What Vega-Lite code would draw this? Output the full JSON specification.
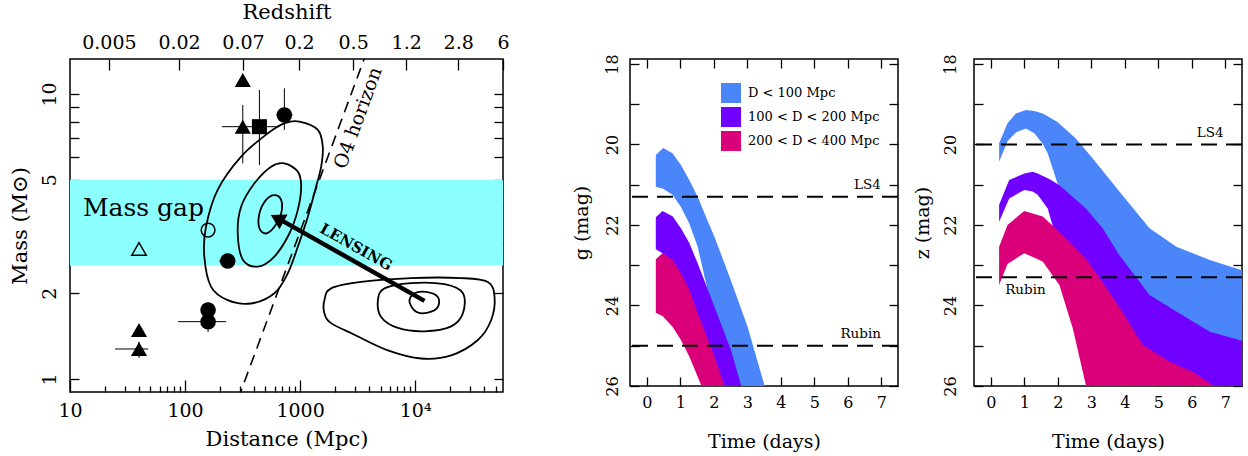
{
  "$schema": "https://vega.github.io/schema/vega-lite/v6.json",
  "background": "white",
  "padding": {"left": 8, "right": 5, "top": 0, "bottom": 2},
  "config": {
    "font": "DejaVu Serif",
    "view": {"stroke": "black", "strokeWidth": 1.5},
    "axis": {"grid": false, "domain": false, "labelColor": "black", "titleColor": "black", "tickColor": "black", "tickWidth": 1.3, "titleFontWeight": "normal", "labelOverlap": false, "labelFlush": false, "labelFont": "DejaVu Serif", "titleFont": "DejaVu Serif"},
    "legend": {"labelFont": "DejaVu Serif"}
  },
  "datasets": {
    "band": [{"d1": 10, "d2": 58000, "m1": 2.5, "m2": 5}],
    "contours": [
      {"c": "A", "i": 1, "d": 986, "m": 8.0}, {"c": "A", "i": 2, "d": 1426, "m": 7.48}, {"c": "A", "i": 3, "d": 1574, "m": 6.53}, {"c": "A", "i": 4, "d": 1524, "m": 5.56}, {"c": "A", "i": 5, "d": 1377, "m": 4.73}, {"c": "A", "i": 6, "d": 1167, "m": 3.71}, {"c": "A", "i": 7, "d": 955, "m": 2.91}, {"c": "A", "i": 8, "d": 782, "m": 2.35}, {"c": "A", "i": 9, "d": 598, "m": 2.0}, {"c": "A", "i": 10, "d": 375, "m": 1.84}, {"c": "A", "i": 11, "d": 235, "m": 1.89}, {"c": "A", "i": 12, "d": 168, "m": 2.11}, {"c": "A", "i": 13, "d": 147, "m": 2.69}, {"c": "A", "i": 14, "d": 152, "m": 3.42}, {"c": "A", "i": 15, "d": 192, "m": 4.61}, {"c": "A", "i": 16, "d": 307, "m": 6.03}, {"c": "A", "i": 17, "d": 524, "m": 7.28}, {"c": "A", "i": 18, "d": 730, "m": 7.89},
      {"c": "B", "i": 1, "d": 730, "m": 5.71}, {"c": "B", "i": 2, "d": 955, "m": 5.34}, {"c": "B", "i": 3, "d": 1021, "m": 4.73}, {"c": "B", "i": 4, "d": 955, "m": 3.92}, {"c": "B", "i": 5, "d": 807, "m": 3.24}, {"c": "B", "i": 6, "d": 598, "m": 2.69}, {"c": "B", "i": 7, "d": 429, "m": 2.48}, {"c": "B", "i": 8, "d": 318, "m": 2.62}, {"c": "B", "i": 9, "d": 287, "m": 3.24}, {"c": "B", "i": 10, "d": 307, "m": 4.02}, {"c": "B", "i": 11, "d": 401, "m": 4.86}, {"c": "B", "i": 12, "d": 560, "m": 5.56},
      {"c": "C", "i": 1, "d": 598, "m": 4.42}, {"c": "C", "i": 2, "d": 684, "m": 4.25}, {"c": "C", "i": 3, "d": 684, "m": 3.81}, {"c": "C", "i": 4, "d": 598, "m": 3.42}, {"c": "C", "i": 5, "d": 506, "m": 3.24}, {"c": "C", "i": 6, "d": 443, "m": 3.38}, {"c": "C", "i": 7, "d": 443, "m": 3.81}, {"c": "C", "i": 8, "d": 506, "m": 4.25},
      {"c": "D", "i": 1, "d": 1626, "m": 1.89}, {"c": "D", "i": 2, "d": 1862, "m": 2.08}, {"c": "D", "i": 3, "d": 3388, "m": 2.19}, {"c": "D", "i": 4, "d": 9226, "m": 2.26}, {"c": "D", "i": 5, "d": 25120, "m": 2.26}, {"c": "D", "i": 6, "d": 42850, "m": 2.19}, {"c": "D", "i": 7, "d": 48980, "m": 1.94}, {"c": "D", "i": 8, "d": 45800, "m": 1.61}, {"c": "D", "i": 9, "d": 35080, "m": 1.37}, {"c": "D", "i": 10, "d": 20560, "m": 1.21}, {"c": "D", "i": 11, "d": 11270, "m": 1.18}, {"c": "D", "i": 12, "d": 5794, "m": 1.26}, {"c": "D", "i": 13, "d": 2965, "m": 1.43}, {"c": "D", "i": 14, "d": 1862, "m": 1.57}, {"c": "D", "i": 15, "d": 1626, "m": 1.7},
      {"c": "E", "i": 1, "d": 4742, "m": 1.89}, {"c": "E", "i": 2, "d": 5408, "m": 2.08}, {"c": "E", "i": 3, "d": 9226, "m": 2.17}, {"c": "E", "i": 4, "d": 17990, "m": 2.15}, {"c": "E", "i": 5, "d": 26000, "m": 2.0}, {"c": "E", "i": 6, "d": 26000, "m": 1.7}, {"c": "E", "i": 7, "d": 20560, "m": 1.53}, {"c": "E", "i": 8, "d": 12050, "m": 1.47}, {"c": "E", "i": 9, "d": 7079, "m": 1.51}, {"c": "E", "i": 10, "d": 5058, "m": 1.65},
      {"c": "F", "i": 1, "d": 8913, "m": 1.87}, {"c": "F", "i": 2, "d": 9863, "m": 2.0}, {"c": "F", "i": 3, "d": 12470, "m": 2.02}, {"c": "F", "i": 4, "d": 15740, "m": 1.94}, {"c": "F", "i": 5, "d": 15740, "m": 1.79}, {"c": "F", "i": 6, "d": 12880, "m": 1.71}, {"c": "F", "i": 7, "d": 10210, "m": 1.72}
    ],
    "o4": [{"d1": 288.5, "m1": 0.85, "d2": 3785, "m2": 14}],
    "arrow": [{"d1": 12050, "m1": 1.88, "d2": 684, "m2": 3.61}],
    "head": [{"d": 632, "m": 3.66}],
    "errs": [
      {"x1": 24.6, "x2": 47.7, "y1": 1.274, "y2": 1.274},
      {"x1": 39.8, "x2": 39.8, "y1": 1.185, "y2": 1.35},
      {"x1": 86.9, "x2": 227.5, "y1": 1.589, "y2": 1.589},
      {"x1": 158.5, "x2": 158.5, "y1": 1.46, "y2": 1.85},
      {"x1": 198, "x2": 270, "y1": 2.594, "y2": 2.594},
      {"x1": 208.5, "x2": 660, "y1": 7.68, "y2": 7.68},
      {"x1": 317.5, "x2": 317.5, "y1": 5.71, "y2": 9.15},
      {"x1": 443, "x2": 443, "y1": 5.63, "y2": 10.33},
      {"x1": 730, "x2": 730, "y1": 7.48, "y2": 10.47},
      {"x1": 618, "x2": 862, "y1": 8.44, "y2": 8.44}
    ],
    "pts": [
      {"d": 39.8, "m": 1.486, "k": "tri"}, {"d": 39.8, "m": 1.274, "k": "tri"}, {"d": 317.5, "m": 11.2, "k": "tri"}, {"d": 317.5, "m": 7.68, "k": "tri"},
      {"d": 158.5, "m": 1.746, "k": "circ"}, {"d": 158.5, "m": 1.589, "k": "circ"}, {"d": 235, "m": 2.594, "k": "circ"}, {"d": 730, "m": 8.44, "k": "circ"},
      {"d": 443, "m": 7.68, "k": "sq"}
    ],
    "opts": [{"d": 39.8, "m": 2.86, "k": "otri"}, {"d": 158.5, "m": 3.33, "k": "ocirc"}],
    "massgap": [{"d": 12.97, "m": 3.98, "label": "Mass gap"}],
    "lensing": [{"d": 3069, "m": 2.905, "label": "LENSING"}],
    "o4label": [{"d": 3192, "m": 8.24, "label": "O4 horizon"}],
    "gbands": [
      {"s": "D < 100 Mpc", "t": 0.27, "hi": 20.26, "lo": 21.05}, {"s": "D < 100 Mpc", "t": 0.49, "hi": 20.09, "lo": 21.1}, {"s": "D < 100 Mpc", "t": 0.77, "hi": 20.22, "lo": 21.25}, {"s": "D < 100 Mpc", "t": 1.02, "hi": 20.51, "lo": 21.55}, {"s": "D < 100 Mpc", "t": 1.27, "hi": 20.88, "lo": 21.96}, {"s": "D < 100 Mpc", "t": 1.52, "hi": 21.3, "lo": 22.54}, {"s": "D < 100 Mpc", "t": 1.77, "hi": 21.8, "lo": 23.45}, {"s": "D < 100 Mpc", "t": 2.02, "hi": 22.29, "lo": 24.4}, {"s": "D < 100 Mpc", "t": 2.51, "hi": 23.37, "lo": 25.5}, {"s": "D < 100 Mpc", "t": 3.01, "hi": 24.53, "lo": 26.5}, {"s": "D < 100 Mpc", "t": 3.51, "hi": 25.97, "lo": 27.0}, {"s": "D < 100 Mpc", "t": 3.7, "hi": 26.4, "lo": 27.2},
      {"s": "100 < D < 200 Mpc", "t": 0.27, "hi": 21.81, "lo": 22.6}, {"s": "100 < D < 200 Mpc", "t": 0.47, "hi": 21.65, "lo": 22.7}, {"s": "100 < D < 200 Mpc", "t": 0.77, "hi": 21.78, "lo": 23.1}, {"s": "100 < D < 200 Mpc", "t": 1.02, "hi": 22.08, "lo": 23.45}, {"s": "100 < D < 200 Mpc", "t": 1.27, "hi": 22.45, "lo": 23.9}, {"s": "100 < D < 200 Mpc", "t": 1.52, "hi": 22.95, "lo": 24.5}, {"s": "100 < D < 200 Mpc", "t": 2.02, "hi": 24.03, "lo": 25.6}, {"s": "100 < D < 200 Mpc", "t": 2.51, "hi": 25.1, "lo": 26.6}, {"s": "100 < D < 200 Mpc", "t": 2.81, "hi": 25.97, "lo": 27.0}, {"s": "100 < D < 200 Mpc", "t": 3.0, "hi": 26.6, "lo": 27.3},
      {"s": "200 < D < 400 Mpc", "t": 0.27, "hi": 22.85, "lo": 24.18}, {"s": "200 < D < 400 Mpc", "t": 0.47, "hi": 22.7, "lo": 24.26}, {"s": "200 < D < 400 Mpc", "t": 0.77, "hi": 22.87, "lo": 24.53}, {"s": "200 < D < 400 Mpc", "t": 1.02, "hi": 23.2, "lo": 24.86}, {"s": "200 < D < 400 Mpc", "t": 1.27, "hi": 23.61, "lo": 25.27}, {"s": "200 < D < 400 Mpc", "t": 1.52, "hi": 24.19, "lo": 25.77}, {"s": "200 < D < 400 Mpc", "t": 1.62, "hi": 24.4, "lo": 25.97}, {"s": "200 < D < 400 Mpc", "t": 2.02, "hi": 25.27, "lo": 26.8}, {"s": "200 < D < 400 Mpc", "t": 2.31, "hi": 25.97, "lo": 27.3}, {"s": "200 < D < 400 Mpc", "t": 2.5, "hi": 26.5, "lo": 27.6}
    ],
    "zbands": [
      {"s": "D < 100 Mpc", "t": 0.25, "hi": 19.97, "lo": 20.43}, {"s": "D < 100 Mpc", "t": 0.5, "hi": 19.47, "lo": 19.92}, {"s": "D < 100 Mpc", "t": 0.75, "hi": 19.23, "lo": 19.7}, {"s": "D < 100 Mpc", "t": 1.05, "hi": 19.14, "lo": 19.6}, {"s": "D < 100 Mpc", "t": 1.3, "hi": 19.17, "lo": 19.72}, {"s": "D < 100 Mpc", "t": 1.55, "hi": 19.23, "lo": 19.98}, {"s": "D < 100 Mpc", "t": 1.7, "hi": 19.3, "lo": 20.22}, {"s": "D < 100 Mpc", "t": 1.99, "hi": 19.44, "lo": 20.96}, {"s": "D < 100 Mpc", "t": 2.54, "hi": 19.85, "lo": 21.7}, {"s": "D < 100 Mpc", "t": 3.04, "hi": 20.34, "lo": 22.1}, {"s": "D < 100 Mpc", "t": 3.84, "hi": 21.17, "lo": 23.15}, {"s": "D < 100 Mpc", "t": 4.74, "hi": 22.08, "lo": 24.14}, {"s": "D < 100 Mpc", "t": 5.54, "hi": 22.54, "lo": 24.55}, {"s": "D < 100 Mpc", "t": 6.54, "hi": 22.87, "lo": 25.05}, {"s": "D < 100 Mpc", "t": 7.6, "hi": 23.15, "lo": 25.3},
      {"s": "100 < D < 200 Mpc", "t": 0.25, "hi": 21.5, "lo": 21.92}, {"s": "100 < D < 200 Mpc", "t": 0.55, "hi": 20.88, "lo": 21.34}, {"s": "100 < D < 200 Mpc", "t": 1.0, "hi": 20.72, "lo": 21.13}, {"s": "100 < D < 200 Mpc", "t": 1.25, "hi": 20.68, "lo": 21.17}, {"s": "100 < D < 200 Mpc", "t": 1.4, "hi": 20.72, "lo": 21.25}, {"s": "100 < D < 200 Mpc", "t": 1.7, "hi": 20.84, "lo": 21.59}, {"s": "100 < D < 200 Mpc", "t": 1.8, "hi": 20.88, "lo": 21.88}, {"s": "100 < D < 200 Mpc", "t": 2.05, "hi": 21.01, "lo": 22.55}, {"s": "100 < D < 200 Mpc", "t": 2.84, "hi": 21.59, "lo": 23.2}, {"s": "100 < D < 200 Mpc", "t": 3.34, "hi": 22.08, "lo": 23.8}, {"s": "100 < D < 200 Mpc", "t": 3.84, "hi": 22.75, "lo": 24.45}, {"s": "100 < D < 200 Mpc", "t": 4.74, "hi": 23.74, "lo": 25.5}, {"s": "100 < D < 200 Mpc", "t": 5.54, "hi": 24.15, "lo": 25.85}, {"s": "100 < D < 200 Mpc", "t": 6.54, "hi": 24.65, "lo": 26.3}, {"s": "100 < D < 200 Mpc", "t": 7.6, "hi": 24.9, "lo": 26.6},
      {"s": "200 < D < 400 Mpc", "t": 0.25, "hi": 22.54, "lo": 23.49}, {"s": "200 < D < 400 Mpc", "t": 0.5, "hi": 22.0, "lo": 22.97}, {"s": "200 < D < 400 Mpc", "t": 1.0, "hi": 21.65, "lo": 22.7}, {"s": "200 < D < 400 Mpc", "t": 1.55, "hi": 21.79, "lo": 22.91}, {"s": "200 < D < 400 Mpc", "t": 2.05, "hi": 22.17, "lo": 23.49}, {"s": "200 < D < 400 Mpc", "t": 2.45, "hi": 22.5, "lo": 24.57}, {"s": "200 < D < 400 Mpc", "t": 2.84, "hi": 22.83, "lo": 25.98}, {"s": "200 < D < 400 Mpc", "t": 3.2, "hi": 23.26, "lo": 27.0}, {"s": "200 < D < 400 Mpc", "t": 3.74, "hi": 23.91, "lo": 27.5}, {"s": "200 < D < 400 Mpc", "t": 4.54, "hi": 24.98, "lo": 27.5}, {"s": "200 < D < 400 Mpc", "t": 5.34, "hi": 25.4, "lo": 27.5}, {"s": "200 < D < 400 Mpc", "t": 6.04, "hi": 25.65, "lo": 27.5}, {"s": "200 < D < 400 Mpc", "t": 6.54, "hi": 25.93, "lo": 27.5}, {"s": "200 < D < 400 Mpc", "t": 7.6, "hi": 26.6, "lo": 27.5}
    ],
    "glines": [{"g": 21.3}, {"g": 25.0}],
    "zlines": [{"g": 20.0}, {"g": 23.3}],
    "glabels": [{"t": 6.99, "g": 21.11, "label": "LS4"}, {"t": 6.99, "g": 24.81, "label": "Rubin"}],
    "zlabelsR": [{"t": 6.95, "g": 19.82, "label": "LS4"}],
    "zlabelsL": [{"t": 0.43, "g": 23.71, "label": "Rubin"}]
  },
  "spacing": 127,
  "bounds": "flush",
  "hconcat": [
    {
      "width": 433,
      "height": 333,
      "resolve": {"axis": {"x": "independent", "y": "independent"}},
      "layer": [
        {
          "data": {"name": "band"},
          "mark": {"type": "rect", "color": "#8cffff"},
          "encoding": {
            "x": {"field": "d1", "type": "quantitative", "scale": {"type": "log", "domain": [10, 58000], "nice": false},
              "axis": {"orient": "bottom", "values": [10, 100, 1000, 10000], "labelExpr": "datum.value == 10 ? '10' : datum.value == 100 ? '100' : datum.value == 1000 ? '1000' : '10⁴'", "tickSize": -12, "labelPadding": 21, "labelFontSize": 19, "title": "Distance (Mpc)", "titleFontSize": 21, "titlePadding": 8}},
            "x2": {"field": "d2"},
            "y": {"field": "m1", "type": "quantitative", "scale": {"type": "log", "domain": [0.9, 13.27], "nice": false},
              "axis": {"orient": "left", "values": [1, 2, 3, 4, 5, 6, 7, 8, 9, 10], "labelExpr": "datum.value == 1 ? '1' : datum.value == 2 ? '2' : datum.value == 5 ? '5' : datum.value == 10 ? '10' : ''", "labelAngle": -90, "tickSize": -9, "labelPadding": 20, "labelFontSize": 19, "title": "Mass (M⊙)", "titleFontSize": 21, "titlePadding": 10}},
            "y2": {"field": "m2"}
          }
        },
        {
          "data": {"name": "contours"},
          "mark": {"type": "line", "interpolate": "cardinal-closed", "color": "black", "strokeWidth": 1.8},
          "encoding": {
            "x": {"field": "d", "type": "quantitative", "scale": {"type": "log", "domain": [10, 58000], "nice": false},
              "axis": {"orient": "bottom", "values": [20, 30, 40, 50, 60, 70, 80, 90, 200, 300, 400, 500, 600, 700, 800, 900, 2000, 3000, 4000, 5000, 6000, 7000, 8000, 9000, 20000, 30000, 40000, 50000], "labels": false, "tickSize": -6, "title": null}},
            "y": {"field": "m", "type": "quantitative", "scale": {"type": "log", "domain": [0.9, 13.27], "nice": false},
              "axis": {"orient": "right", "values": [1, 2, 3, 4, 5, 6, 7, 8, 9, 10], "labels": false, "tickSize": -9, "title": null}},
            "detail": {"field": "c"},
            "order": {"field": "i", "type": "quantitative"}
          }
        },
        {
          "data": {"name": "o4"},
          "mark": {"type": "rule", "color": "black", "strokeWidth": 1.6, "strokeDash": [11, 7], "clip": true},
          "encoding": {
            "x": {"field": "d1", "type": "quantitative", "scale": {"type": "log", "domain": [10, 58000], "nice": false},
              "axis": {"orient": "top", "values": [21.8, 88.7, 319, 980, 2890, 8350, 23650, 58000], "labelExpr": "datum.value < 50 ? '0.005' : datum.value < 200 ? '0.02' : datum.value < 500 ? '0.07' : datum.value < 2000 ? '0.2' : datum.value < 5000 ? '0.5' : datum.value < 15000 ? '1.2' : datum.value < 40000 ? '2.8' : '6'", "tickSize": -11, "labelPadding": 18, "labelFontSize": 19, "title": "Redshift", "titleFontSize": 21, "titlePadding": 11}},
            "x2": {"field": "d2"},
            "y": {"field": "m1", "type": "quantitative", "scale": {"type": "log", "domain": [0.9, 13.27], "nice": false}, "axis": null},
            "y2": {"field": "m2"}
          }
        },
        {
          "data": {"name": "errs"},
          "mark": {"type": "rule", "color": "black", "strokeWidth": 1},
          "encoding": {
            "x": {"field": "x1", "type": "quantitative", "scale": {"type": "log", "domain": [10, 58000], "nice": false}, "axis": null},
            "x2": {"field": "x2"},
            "y": {"field": "y1", "type": "quantitative", "scale": {"type": "log", "domain": [0.9, 13.27], "nice": false}, "axis": null},
            "y2": {"field": "y2"}
          }
        },
        {
          "data": {"name": "arrow"},
          "mark": {"type": "rule", "color": "black", "strokeWidth": 4.5},
          "encoding": {
            "x": {"field": "d1", "type": "quantitative", "scale": {"type": "log", "domain": [10, 58000], "nice": false}, "axis": null},
            "x2": {"field": "d2"},
            "y": {"field": "m1", "type": "quantitative", "scale": {"type": "log", "domain": [0.9, 13.27], "nice": false}, "axis": null},
            "y2": {"field": "m2"}
          }
        },
        {
          "data": {"name": "head"},
          "mark": {"type": "point", "shape": "triangle-up", "filled": true, "color": "black", "opacity": 1, "size": 280, "angle": 299},
          "encoding": {
            "x": {"field": "d", "type": "quantitative", "scale": {"type": "log", "domain": [10, 58000], "nice": false}, "axis": null},
            "y": {"field": "m", "type": "quantitative", "scale": {"type": "log", "domain": [0.9, 13.27], "nice": false}, "axis": null}
          }
        },
        {
          "data": {"name": "pts"},
          "mark": {"type": "point", "filled": true, "color": "black", "opacity": 1},
          "encoding": {
            "x": {"field": "d", "type": "quantitative", "scale": {"type": "log", "domain": [10, 58000], "nice": false}, "axis": null},
            "y": {"field": "m", "type": "quantitative", "scale": {"type": "log", "domain": [0.9, 13.27], "nice": false}, "axis": null},
            "shape": {"field": "k", "type": "nominal", "scale": {"domain": ["tri", "circ", "sq", "otri", "ocirc"], "range": ["triangle-up", "circle", "square", "triangle-up", "circle"]}, "legend": null},
            "size": {"field": "k", "type": "ordinal", "scale": {"domain": ["tri", "circ", "sq", "otri", "ocirc"], "range": [260, 190, 169, 400, 310]}, "legend": null}
          }
        },
        {
          "data": {"name": "opts"},
          "mark": {"type": "point", "filled": false, "color": "black", "strokeWidth": 1.5, "opacity": 1},
          "encoding": {
            "x": {"field": "d", "type": "quantitative", "scale": {"type": "log", "domain": [10, 58000], "nice": false}, "axis": null},
            "y": {"field": "m", "type": "quantitative", "scale": {"type": "log", "domain": [0.9, 13.27], "nice": false}, "axis": null},
            "shape": {"field": "k", "type": "nominal", "scale": {"domain": ["tri", "circ", "sq", "otri", "ocirc"], "range": ["triangle-up", "circle", "square", "triangle-up", "circle"]}, "legend": null},
            "size": {"field": "k", "type": "ordinal", "scale": {"domain": ["tri", "circ", "sq", "otri", "ocirc"], "range": [260, 190, 169, 400, 310]}, "legend": null}
          }
        },
        {
          "data": {"name": "massgap"},
          "mark": {"type": "text", "align": "left", "baseline": "middle", "fontSize": 25, "font": "DejaVu Serif", "color": "black"},
          "encoding": {
            "x": {"field": "d", "type": "quantitative", "scale": {"type": "log", "domain": [10, 58000], "nice": false}, "axis": null},
            "y": {"field": "m", "type": "quantitative", "scale": {"type": "log", "domain": [0.9, 13.27], "nice": false}, "axis": null},
            "text": {"field": "label"}
          }
        },
        {
          "data": {"name": "lensing"},
          "mark": {"type": "text", "align": "center", "baseline": "middle", "fontSize": 15, "fontWeight": "bold", "font": "DejaVu Serif", "color": "black", "angle": 29.4},
          "encoding": {
            "x": {"field": "d", "type": "quantitative", "scale": {"type": "log", "domain": [10, 58000], "nice": false}, "axis": null},
            "y": {"field": "m", "type": "quantitative", "scale": {"type": "log", "domain": [0.9, 13.27], "nice": false}, "axis": null},
            "text": {"field": "label"}
          }
        },
        {
          "data": {"name": "o4label"},
          "mark": {"type": "text", "align": "center", "baseline": "middle", "fontSize": 19, "font": "DejaVu Serif", "color": "black", "angle": -70},
          "encoding": {
            "x": {"field": "d", "type": "quantitative", "scale": {"type": "log", "domain": [10, 58000], "nice": false}, "axis": null},
            "y": {"field": "m", "type": "quantitative", "scale": {"type": "log", "domain": [0.9, 13.27], "nice": false}, "axis": null},
            "text": {"field": "label"}
          }
        }
      ]
    },
    {
      "spacing": 76,
      "bounds": "flush",
      "resolve": {"scale": {"color": "independent"}, "legend": {"color": "independent"}},
      "hconcat": [
        {
          "width": 268,
          "height": 327,
          "resolve": {"axis": {"x": "independent", "y": "independent"}},
          "layer": [
            {
              "data": {"name": "gbands"},
              "transform": [{"filter": "datum.s == 'D < 100 Mpc'"}],
              "mark": {"type": "area", "clip": true, "opacity": 1},
              "encoding": {
                "x": {"field": "t", "type": "quantitative", "scale": {"domain": [-0.5, 7.5], "nice": false, "zero": false},
                  "axis": {"orient": "bottom", "values": [0, 1, 2, 3, 4, 5, 6, 7], "tickSize": -9, "labelPadding": 17, "labelFontSize": 16, "title": "Time (days)", "titleFontSize": 19, "titlePadding": 22}},
                "y": {"field": "hi", "type": "quantitative", "scale": {"domain": [17.876, 26], "reverse": true, "nice": false, "zero": false},
                  "axis": {"orient": "left", "values": [18, 19, 20, 21, 22, 23, 24, 25, 26], "labelExpr": "datum.value % 2 == 0 ? '' + datum.value : ''", "labelAngle": -90, "tickSize": -9, "labelPadding": 19, "labelFontSize": 16, "title": "g (mag)", "titleFontSize": 19, "titlePadding": 13}},
                "y2": {"field": "lo"},
                "color": {"field": "s", "type": "nominal", "scale": {"domain": ["D < 100 Mpc", "100 < D < 200 Mpc", "200 < D < 400 Mpc"], "range": ["#4a86fa", "#7000ff", "#d9007a"]},
                  "legend": {"orient": "none", "legendX": 91, "legendY": 24, "title": null, "symbolType": "square", "symbolSize": 400, "symbolStrokeWidth": 0, "symbolOpacity": 1, "labelFontSize": 13, "labelFont": "DejaVu Serif", "labelColor": "black", "rowPadding": 4, "labelOffset": 7, "padding": 0}}
              }
            },
            {
              "data": {"name": "gbands"},
              "transform": [{"filter": "datum.s == '100 < D < 200 Mpc'"}],
              "mark": {"type": "area", "clip": true, "opacity": 1},
              "encoding": {
                "x": {"field": "t", "type": "quantitative", "scale": {"domain": [-0.5, 7.5], "nice": false, "zero": false}, "axis": null},
                "y": {"field": "hi", "type": "quantitative", "scale": {"domain": [17.876, 26], "reverse": true, "nice": false, "zero": false}, "axis": null},
                "y2": {"field": "lo"},
                "color": {"field": "s", "type": "nominal", "scale": {"domain": ["D < 100 Mpc", "100 < D < 200 Mpc", "200 < D < 400 Mpc"], "range": ["#4a86fa", "#7000ff", "#d9007a"]},
                  "legend": {"orient": "none", "legendX": 91, "legendY": 24, "title": null, "symbolType": "square", "symbolSize": 400, "symbolStrokeWidth": 0, "symbolOpacity": 1, "labelFontSize": 13, "labelFont": "DejaVu Serif", "labelColor": "black", "rowPadding": 4, "labelOffset": 7, "padding": 0}}
              }
            },
            {
              "data": {"name": "gbands"},
              "transform": [{"filter": "datum.s == '200 < D < 400 Mpc'"}],
              "mark": {"type": "area", "clip": true, "opacity": 1},
              "encoding": {
                "x": {"field": "t", "type": "quantitative", "scale": {"domain": [-0.5, 7.5], "nice": false, "zero": false}, "axis": null},
                "y": {"field": "hi", "type": "quantitative", "scale": {"domain": [17.876, 26], "reverse": true, "nice": false, "zero": false}, "axis": null},
                "y2": {"field": "lo"},
                "color": {"field": "s", "type": "nominal", "scale": {"domain": ["D < 100 Mpc", "100 < D < 200 Mpc", "200 < D < 400 Mpc"], "range": ["#4a86fa", "#7000ff", "#d9007a"]},
                  "legend": {"orient": "none", "legendX": 91, "legendY": 24, "title": null, "symbolType": "square", "symbolSize": 400, "symbolStrokeWidth": 0, "symbolOpacity": 1, "labelFontSize": 13, "labelFont": "DejaVu Serif", "labelColor": "black", "rowPadding": 4, "labelOffset": 7, "padding": 0}}
              }
            },
            {
              "data": {"name": "glines"},
              "mark": {"type": "rule", "color": "black", "strokeWidth": 2, "strokeDash": [16, 9]},
              "encoding": {
                "y": {"field": "g", "type": "quantitative", "scale": {"domain": [17.876, 26], "reverse": true, "nice": false, "zero": false}, "axis": null}
              }
            },
            {
              "data": {"name": "glabels"},
              "mark": {"type": "text", "align": "right", "baseline": "alphabetic", "fontSize": 13.5, "font": "DejaVu Serif", "color": "black"},
              "encoding": {
                "x": {"field": "t", "type": "quantitative", "scale": {"domain": [-0.5, 7.5], "nice": false, "zero": false},
                  "axis": {"orient": "top", "values": [0, 1, 2, 3, 4, 5, 6, 7], "labels": false, "tickSize": -9, "title": null}},
                "y": {"field": "g", "type": "quantitative", "scale": {"domain": [17.876, 26], "reverse": true, "nice": false, "zero": false},
                  "axis": {"orient": "right", "values": [18, 19, 20, 21, 22, 23, 24, 25, 26], "labels": false, "tickSize": -9, "title": null}},
                "text": {"field": "label"}
              }
            }
          ]
        },
        {
          "width": 268,
          "height": 327,
          "resolve": {"axis": {"x": "independent", "y": "independent"}},
          "layer": [
            {
              "data": {"name": "zbands"},
              "transform": [{"filter": "datum.s == 'D < 100 Mpc'"}],
              "mark": {"type": "area", "clip": true, "opacity": 1},
              "encoding": {
                "x": {"field": "t", "type": "quantitative", "scale": {"domain": [-0.5, 7.5], "nice": false, "zero": false},
                  "axis": {"orient": "bottom", "values": [0, 1, 2, 3, 4, 5, 6, 7], "tickSize": -9, "labelPadding": 17, "labelFontSize": 16, "title": "Time (days)", "titleFontSize": 19, "titlePadding": 22}},
                "y": {"field": "hi", "type": "quantitative", "scale": {"domain": [17.876, 26], "reverse": true, "nice": false, "zero": false},
                  "axis": {"orient": "left", "values": [18, 19, 20, 21, 22, 23, 24, 25, 26], "labelExpr": "datum.value % 2 == 0 ? '' + datum.value : ''", "labelAngle": -90, "tickSize": -9, "labelPadding": 25, "labelFontSize": 16, "title": "z (mag)", "titleFontSize": 19, "titlePadding": 10}},
                "y2": {"field": "lo"},
                "color": {"field": "s", "type": "nominal", "scale": {"domain": ["D < 100 Mpc", "100 < D < 200 Mpc", "200 < D < 400 Mpc"], "range": ["#4a86fa", "#7000ff", "#d9007a"]}, "legend": null}
              }
            },
            {
              "data": {"name": "zbands"},
              "transform": [{"filter": "datum.s == '100 < D < 200 Mpc'"}],
              "mark": {"type": "area", "clip": true, "opacity": 1},
              "encoding": {
                "x": {"field": "t", "type": "quantitative", "scale": {"domain": [-0.5, 7.5], "nice": false, "zero": false}, "axis": null},
                "y": {"field": "hi", "type": "quantitative", "scale": {"domain": [17.876, 26], "reverse": true, "nice": false, "zero": false}, "axis": null},
                "y2": {"field": "lo"},
                "color": {"field": "s", "type": "nominal", "scale": {"domain": ["D < 100 Mpc", "100 < D < 200 Mpc", "200 < D < 400 Mpc"], "range": ["#4a86fa", "#7000ff", "#d9007a"]}, "legend": null}
              }
            },
            {
              "data": {"name": "zbands"},
              "transform": [{"filter": "datum.s == '200 < D < 400 Mpc'"}],
              "mark": {"type": "area", "clip": true, "opacity": 1},
              "encoding": {
                "x": {"field": "t", "type": "quantitative", "scale": {"domain": [-0.5, 7.5], "nice": false, "zero": false}, "axis": null},
                "y": {"field": "hi", "type": "quantitative", "scale": {"domain": [17.876, 26], "reverse": true, "nice": false, "zero": false}, "axis": null},
                "y2": {"field": "lo"},
                "color": {"field": "s", "type": "nominal", "scale": {"domain": ["D < 100 Mpc", "100 < D < 200 Mpc", "200 < D < 400 Mpc"], "range": ["#4a86fa", "#7000ff", "#d9007a"]}, "legend": null}
              }
            },
            {
              "data": {"name": "zlines"},
              "mark": {"type": "rule", "color": "black", "strokeWidth": 2, "strokeDash": [16, 9]},
              "encoding": {
                "y": {"field": "g", "type": "quantitative", "scale": {"domain": [17.876, 26], "reverse": true, "nice": false, "zero": false}, "axis": null}
              }
            },
            {
              "data": {"name": "zlabelsR"},
              "mark": {"type": "text", "align": "right", "baseline": "alphabetic", "fontSize": 13.5, "font": "DejaVu Serif", "color": "black"},
              "encoding": {
                "x": {"field": "t", "type": "quantitative", "scale": {"domain": [-0.5, 7.5], "nice": false, "zero": false},
                  "axis": {"orient": "top", "values": [0, 1, 2, 3, 4, 5, 6, 7], "labels": false, "tickSize": -9, "title": null}},
                "y": {"field": "g", "type": "quantitative", "scale": {"domain": [17.876, 26], "reverse": true, "nice": false, "zero": false},
                  "axis": {"orient": "right", "values": [18, 19, 20, 21, 22, 23, 24, 25, 26], "labels": false, "tickSize": -9, "title": null}},
                "text": {"field": "label"}
              }
            },
            {
              "data": {"name": "zlabelsL"},
              "mark": {"type": "text", "align": "left", "baseline": "alphabetic", "fontSize": 13.5, "font": "DejaVu Serif", "color": "black"},
              "encoding": {
                "x": {"field": "t", "type": "quantitative", "scale": {"domain": [-0.5, 7.5], "nice": false, "zero": false}, "axis": null},
                "y": {"field": "g", "type": "quantitative", "scale": {"domain": [17.876, 26], "reverse": true, "nice": false, "zero": false}, "axis": null},
                "text": {"field": "label"}
              }
            }
          ]
        }
      ]
    }
  ]
}
